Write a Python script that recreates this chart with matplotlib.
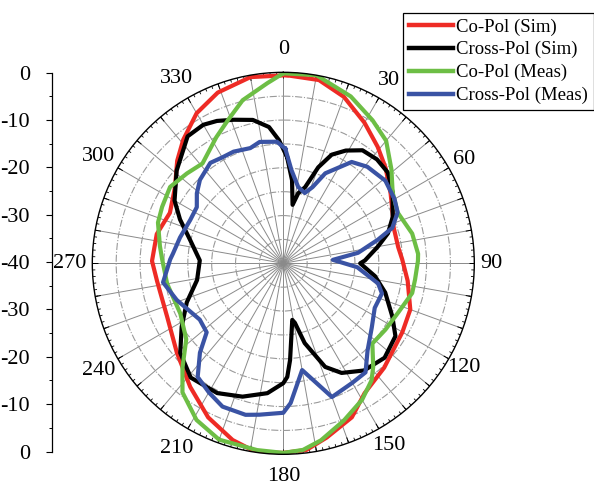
import numpy as np
import matplotlib
matplotlib.use('Agg')
import matplotlib.pyplot as plt

plt.rcParams['font.family'] = ['Liberation Serif', 'DejaVu Serif']

# radiation pattern data: angle in degrees (0 at top, clockwise), level in dB
co_sim_ang = [1, 11, 20, 30, 39, 47, 57, 64, 72, 82, 88, 98, 110, 120, 136, 148, 156, 166, 173,
              180, 188, 196, 206, 217, 230, 245, 262, 271, 283, 294, 305, 314, 321, 330, 339, 350]
co_sim_db = [-0.6, -0.9, -2.9, -6.0, -8.6, -10.7, -13.2, -14.6, -15.7, -15.7, -15.1, -13.7, -11.7,
             -11.2, -9.6, -7.9, -4.7, -2.4, -0.6, -0.3, 0.0, -1.5, -4.1, -7.6, -10.9, -13.2, -13.3,
             -12.5, -12.8, -14.0, -12.3, -9.1, -6.7, -3.7, -1.7, -0.4]

cross_sim_ang = [2, 6, 9, 12, 16, 20, 24, 29, 35, 42, 49, 57, 67, 74, 80, 88, 90, 98, 106, 116, 123,
                 133, 143, 152, 158, 165, 169, 171, 176, 178, 180, 187, 197, 207, 219, 229, 238,
                 248, 259, 272, 284, 293, 300, 311, 323, 330, 335, 341, 348, 354, 358]
cross_sim_db = [-17.7, -22.5, -27.6, -25.0, -23.4, -18.6, -15.1, -13.0, -11.1, -10.7, -11.0, -12.7,
                -15.1, -17.2, -19.9, -22.9, -23.9, -20.6, -17.8, -14.6, -12.0, -11.0, -11.9, -14.0,
                -16.6, -22.7, -27.3, -28.0, -19.7, -16.2, -14.9, -12.6, -10.8, -9.5, -9.2, -11.4,
                -14.9, -18.2, -21.6, -22.5, -19.9, -16.5, -13.7, -10.4, -6.7, -6.5, -7.1, -8.2,
                -9.3, -11.3, -14.2]

co_meas_ang = [0, 10, 22, 32, 40, 49, 57, 66, 77, 86, 89, 97, 103, 113, 123, 132, 139, 143, 150,
               159, 168, 174, 180, 188, 200, 209, 218, 224, 232, 244, 260, 272, 278, 288, 295, 304,
               313, 321, 332, 339, 346, 355]
co_meas_db = [-0.2, 0.0, -2.3, -4.7, -6.5, -10.0, -12.7, -13.8, -12.3, -11.7, -11.8, -12.2, -12.3,
              -13.8, -14.5, -14.9, -11.3, -9.3, -7.0, -4.7, -2.1, -0.7, -0.3, -0.5, -0.7, -2.5,
              -5.7, -9.6, -14.2, -16.0, -15.3, -14.6, -13.9, -12.4, -12.0, -11.4, -12.4, -13.1,
              -10.1, -7.8, -4.8, -2.1]

cross_meas_ang = [1, 5, 11, 17, 21, 25, 34, 41, 51, 60, 66, 72, 76, 82, 86, 93, 102, 107, 116, 126,
                  136, 143, 150, 160, 170, 177, 180, 189, 194, 203, 210, 217, 223, 228, 236, 251,
                  261, 272, 275, 284, 295, 303, 309, 315, 324, 330, 336, 344, 349, 357]
cross_meas_db = [-16.0, -20.4, -23.7, -24.6, -22.9, -19.2, -14.4, -13.2, -12.5, -13.1, -13.8, -16.0,
                 -19.6, -24.2, -29.6, -24.5, -19.7, -18.4, -18.7, -17.1, -14.6, -11.4, -11.1, -10.2,
                 -17.3, -10.7, -8.7, -7.9, -7.3, -7.4, -8.8, -10.2, -14.4, -18.4, -18.9, -16.4,
                 -14.5, -16.3, -16.8, -17.7, -18.5, -18.4, -16.7, -15.3, -14.0, -14.4, -14.4, -14.9,
                 -14.1, -14.5]

angle_ticks = [0, 30, 60, 90, 120, 150, 180, 210, 240, 270, 300, 330]
angle_labels = [str(a) for a in angle_ticks]
left_labels = ['0', '-10', '-20', '-30', '-40', '-30', '-20', '-10', '0']

series = [
    ('Co-Pol (Sim)', co_sim_ang, co_sim_db, '#ee2b25'),
    ('Cross-Pol (Sim)', cross_sim_ang, cross_sim_db, '#000000'),
    ('Co-Pol (Meas)', co_meas_ang, co_meas_db, '#6dbe45'),
    ('Cross-Pol (Meas)', cross_meas_ang, cross_meas_db, '#3a53a4'),
]


def closed(ang, db):
    a = np.deg2rad(np.append(ang, ang[0] + 360))
    d = np.append(db, db[0])
    return a, d


fig = plt.figure(figsize=(5.94, 4.86), dpi=100)
ax = fig.add_axes([0.1554, 0.0652, 0.6431, 0.7860], projection='polar')
ax.set_theta_zero_location('N')
ax.set_theta_direction(-1)
ax.set_ylim(-40, 0)

# spokes every 10 deg, dash-dot rings every 5 dB
ax.set_thetagrids(np.arange(0, 360, 10), labels=[''] * 36)
ax.set_rgrids(np.arange(-35, 0, 5), labels=[''] * 7)
ax.xaxis.grid(True, color='#8a8a8a', lw=0.7, ls='-')
ax.yaxis.grid(True, color='#9a9a9a', lw=0.8, ls='-.')
ax.tick_params(axis='both', length=0)
ax.spines['polar'].set_linewidth(1.0)
ax.spines['polar'].set_color('k')

# small tick marks round the rim
ax.vlines(np.deg2rad(np.arange(0, 360, 2)), -0.6, 0, colors='k', lw=0.6)
ax.vlines(np.deg2rad(np.arange(0, 360, 10)), -1.2, 0, colors='k', lw=0.7)

for name, ang, db, col in series:
    a, d = closed(ang, db)
    ax.plot(a, d, color=col, lw=3, label=name, solid_joinstyle='round')

# angle labels sit a little outside the rim; side ones a bit closer
for a, s in zip(angle_ticks, angle_labels):
    r = 4.7 - 1.2 * abs(np.sin(np.deg2rad(a))) * (a < 180)
    ax.text(np.deg2rad(a), r, s, ha='center', va='center', fontsize=16, clip_on=False)

# vertical dB scale on the left
ax2 = fig.add_axes([52 / 594, 1 - 451.5 / 486, 0.001, 379 / 486])
ax2.patch.set_visible(False)
for sp in ['right', 'top', 'bottom']:
    ax2.spines[sp].set_visible(False)
ax2.spines['left'].set_linewidth(0.9)
ax2.set_ylim(-40, 40)
ax2.set_yticks(np.linspace(40, -40, len(left_labels)))
ax2.set_yticklabels(left_labels, fontsize=16)
ax2.set_yticks(np.arange(-35, 40, 10), minor=True)
ax2.tick_params(axis='y', which='major', length=4, width=0.8, pad=12)
ax2.tick_params(axis='y', which='minor', length=2.5, width=0.7)
ax2.set_xticks([])

leg = fig.legend(loc='lower left', bbox_to_anchor=(403 / 594, 1 - 110 / 486), borderaxespad=0,
                 fontsize=13.5, handlelength=2.35, handletextpad=0.18, labelspacing=0.3,
                 borderpad=0.3, fancybox=False, framealpha=1, edgecolor='k')
leg.get_frame().set_linewidth(0.9)
for line in leg.get_lines():
    line.set_linewidth(3.2)

fig.savefig('out.png', dpi=100)
